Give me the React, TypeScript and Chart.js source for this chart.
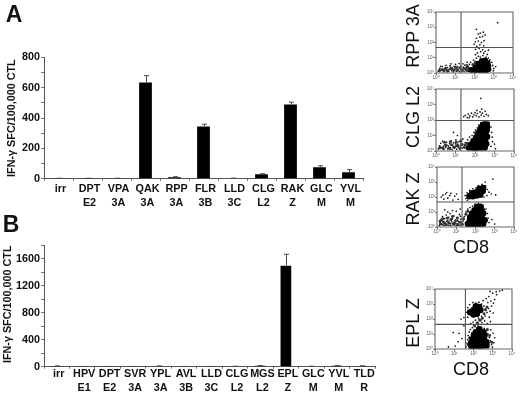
import React, { useEffect, useRef } from "react";
import { Chart, registerables } from "chart.js";

Chart.register(...registerables);

type Pt = [number, number];

const catsA = [["irr"], ["DPT", "E2"], ["VPA", "3A"], ["QAK", "3A"], ["RPP", "3A"], ["FLR", "3B"], ["LLD", "3C"], ["CLG", "L2"], ["RAK", "Z"], ["GLC", "M"], ["YVL", "M"]];
const valuesA = [2, 2, 2, 635, 10, 345, 3, 30, 490, 75, 42];
const errorsA = [1, 1, 1, 45, 3, 15, 1, 3, 15, 10, 18];

const catsB = [["irr"], ["HPV", "E1"], ["DPT", "E2"], ["SVR", "3A"], ["YPL", "3A"], ["AVL", "3B"], ["LLD", "3C"], ["CLG", "L2"], ["MGS", "L2"], ["EPL", "Z"], ["GLC", "M"], ["YVL", "M"], ["TLD", "R"]];
const valuesB = [10, 3, 3, 3, 10, 3, 3, 5, 15, 1500, 6, 15, 12];
const errorsB = [2, 1, 1, 1, 2, 1, 1, 2, 3, 170, 2, 3, 2];

const decadeLabels = ["10⁰", "10¹", "10²", "10³", "10⁴"];

const rppCore: Pt[] = [[1.85, .2], [2.05, .18], [2.25, .18], [2.45, .18], [2.62, .2], [2.72, .24], [2.05, .38], [2.22, .4], [2.4, .42], [2.58, .42], [2.72, .46], [2.2, .6], [2.38, .62], [2.55, .64], [2.68, .66], [2.38, .78], [2.55, .82]];
const rppMid: Pt[] = [[.3, .22], [.5, .3], [.62, .16], [.78, .3], [.92, .2], [1.02, .36], [1.12, .22], [1.24, .34], [1.36, .18], [1.48, .3], [1.58, .2], [1.68, .34], [.42, .14], [.18, .14], [1.7, .14], [1.6, .5], [2.05, .72], [1.92, .55]];
const rppDots: Pt[] = [[.12, .12], [.2, .3], [.28, .18], [.33, .42], [.4, .1], [.45, .27], [.52, .5], [.55, .16], [.6, .36], [.66, .1], [.7, .25], [.72, .48], [.78, .6], [.82, .15], [.85, .34], [.9, .08], [.94, .44], [.98, .22], [1.02, .56], [1.05, .12], [1.08, .32], [1.12, .42], [1.16, .2], [1.2, .62], [1.23, .1], [1.27, .3], [1.3, .46], [1.34, .16], [1.38, .24], [1.42, .38], [1.46, .1], [1.5, .52], [1.54, .2], [1.58, .33], [1.62, .12], [1.66, .44], [1.7, .26], [1.74, .56], [1.77, .12], [.16, .2], [.36, .26], [.5, .34], [.62, .18], [.76, .38], [.88, .24], [1.0, .36], [1.14, .14], [1.32, .22], [.24, .44], [.58, .08], [1.4, .6], [1.62, .7], [1.8, .7], [1.95, .85], [2.0, .65], [2.1, .98], [2.2, 1.1], [2.3, 1.05], [2.44, 1.14], [2.6, 1.05], [2.72, .98], [2.8, .86], [2.9, .7], [2.95, .5], [3.0, .3], [2.98, .15], [3.1, .42], [2.05, 1.2], [2.15, 1.32], [2.48, 1.3], [2.32, 1.4], [2.05, 1.55], [2.24, 1.6], [2.42, 1.52], [2.55, 1.42], [2.12, 1.75], [2.28, 1.85], [2.48, 1.78], [1.98, 1.9], [2.05, 2.05], [2.2, 2.1], [2.36, 2.0], [2.5, 2.12], [2.1, 2.28], [2.28, 2.35], [2.42, 2.4], [2.55, 2.5], [2.3, 2.62], [2.46, 2.68], [2.2, 2.55], [3.2, 3.3], [2.1, 2.86], [2.72, 1.5], [2.66, 1.22]];

const clgCore: Pt[] = [[1.7, .22], [1.9, .2], [2.1, .2], [2.3, .22], [2.5, .22], [1.8, .42], [2.0, .42], [2.2, .42], [2.4, .44], [2.58, .46], [1.92, .65], [2.12, .65], [2.32, .66], [2.52, .68], [2.06, .88], [2.26, .88], [2.46, .9], [2.62, .92], [2.14, 1.1], [2.34, 1.1], [2.54, 1.12], [2.24, 1.3], [2.44, 1.32], [2.6, 1.34], [2.32, 1.5], [2.5, 1.52], [2.62, 1.55], [2.42, 1.7], [2.6, 1.72]];
const clgMid: Pt[] = [[.2, .26], [.36, .18], [.5, .36], [.66, .2], [.8, .4], [.94, .24], [1.08, .34], [1.22, .2], [1.34, .42], [.44, .56], [.74, .6], [1.04, .58], [1.46, .22], [1.28, .66], [1.5, .4], [1.6, .5]];
const clgDots: Pt[] = [[.12, .14], [.18, .34], [.24, .5], [.3, .2], [.34, .62], [.4, .1], [.46, .42], [.5, .24], [.54, .56], [.6, .14], [.64, .34], [.7, .48], [.74, .22], [.78, .66], [.82, .1], [.86, .38], [.9, .54], [.94, .18], [.98, .3], [1.02, .72], [1.06, .12], [1.1, .44], [1.14, .26], [1.18, .6], [1.22, .14], [1.26, .36], [1.3, .5], [1.34, .2], [1.38, .78], [.2, .16], [.38, .3], [.56, .38], [.72, .12], [.88, .26], [1.0, .46], [1.16, .36], [1.44, .3], [1.5, .55], [1.56, .14], [1.62, .72], [1.72, .9], [1.85, 1.0], [1.95, 1.2], [2.02, 1.35], [2.12, 1.5], [2.2, 1.68], [2.3, 1.82], [2.5, 1.9], [2.72, 1.85], [2.82, 1.55], [2.85, 1.2], [2.88, .9], [2.9, .6], [2.82, .3], [3.0, .45], [3.05, .15], [1.42, 2.22], [1.5, 2.3], [1.6, 2.16], [1.66, 2.38], [1.74, 2.26], [1.82, 2.44], [1.88, 2.2], [1.94, 2.34], [2.0, 2.48], [2.06, 2.28], [2.12, 2.42], [2.2, 2.2], [2.26, 2.52], [2.32, 2.32], [2.38, 2.44], [2.46, 2.24], [2.52, 2.56], [2.58, 2.36], [2.68, 2.28], [2.1, 2.62], [2.34, 2.7], [1.7, 2.14], [2.3, 3.4], [.9, 1.2], [1.1, 1.0]];

const rakCore: Pt[] = [[1.6, .2], [1.8, .18], [2.0, .18], [2.2, .2], [2.4, .22], [1.7, .42], [1.9, .42], [2.1, .42], [2.3, .44], [2.48, .46], [1.72, .66], [1.92, .66], [2.12, .68], [2.32, .68], [1.82, .9], [2.02, .9], [2.22, .92], [2.4, .92], [1.95, 1.12], [2.15, 1.14], [2.32, 1.14], [2.08, 1.34], [2.26, 1.36], [1.68, 2.05], [1.86, 2.05], [2.05, 2.1], [2.25, 2.15], [1.82, 2.25], [2.0, 2.3], [2.2, 2.35], [2.38, 2.4], [2.2, 2.55], [2.4, 2.6]];
const rakMid: Pt[] = [[.2, .2], [.34, .34], [.46, .16], [.6, .3], [.72, .5], [.84, .22], [.96, .4], [1.08, .16], [1.2, .32], [.3, .56], [.54, .6], [.8, .7], [1.06, .6], [.16, .4], [1.32, .18], [1.38, .55], [1.5, .85], [1.6, 1.05]];
const rakDots: Pt[] = [[.12, .1], [.16, .3], [.2, .5], [.24, .18], [.28, .7], [.32, .36], [.36, .1], [.4, .56], [.44, .26], [.48, .8], [.52, .14], [.56, .44], [.6, .64], [.64, .24], [.68, .9], [.72, .1], [.76, .36], [.8, .54], [.84, .16], [.88, .74], [.92, .28], [.96, .46], [1.0, .1], [1.04, .62], [1.08, .2], [1.12, .38], [1.16, .84], [1.2, .12], [1.24, .52], [1.28, .28], [.14, .2], [.26, .42], [.38, .24], [.5, .38], [.62, .12], [.74, .48], [.86, .3], [.98, .22], [1.1, .12], [1.22, .72], [.3, .16], [.46, .16], [.7, .22], [.9, .14], [1.06, .44], [.56, 1.0], [.8, 1.1], [1.0, 1.05], [1.2, 1.2], [.4, 1.15], [1.36, .4], [1.42, .7], [1.5, 1.0], [1.6, 1.2], [1.72, 1.3], [1.85, 1.4], [1.98, 1.52], [2.15, 1.58], [2.4, 1.42], [2.55, 1.2], [2.62, .9], [2.66, .6], [2.7, .3], [2.85, .5], [3.0, .2], [1.5, 1.9], [1.58, 1.78], [1.46, 2.1], [1.56, 2.3], [1.7, 2.45], [1.86, 2.55], [2.02, 2.6], [2.14, 2.76], [2.34, 2.84], [2.52, 2.74], [2.62, 2.5], [2.7, 2.32], [2.6, 2.1], [2.44, 2.0], [2.82, 2.2], [3.05, 2.14], [2.5, 3.0], [2.9, 3.2], [.22, 2.0], [.36, 1.86], [.44, 2.2], [.56, 1.92], [.66, 2.1], [.72, 2.24], [.82, 1.8], [.92, 2.06], [1.02, 2.2], [.5, 2.3], [.3, 2.12], [1.1, 1.85]];

const eplCore: Pt[] = [[1.82, 2.45], [2.0, 2.3], [2.0, 2.6], [2.18, 2.35], [2.18, 2.65], [2.36, 2.6], [2.3, 2.8], [2.12, 2.85], [1.88, .2], [2.08, .2], [2.28, .2], [2.48, .22], [2.68, .24], [1.88, .42], [2.08, .42], [2.28, .42], [2.48, .44], [2.68, .46], [1.95, .66], [2.15, .66], [2.35, .66], [2.55, .68], [2.02, .9], [2.22, .9], [2.42, .92], [2.58, .94], [2.12, 1.12], [2.32, 1.14], [2.5, 1.14], [2.3, 1.32]];
const eplMid: Pt[] = [[2.05, 1.55], [2.2, 1.75], [2.34, 1.92], [2.46, 2.05], [2.55, 2.35], [2.62, 2.62], [2.72, 1.3], [2.84, .9], [2.95, .45], [1.72, .3], [1.8, .75], [2.7, 2.8]];
const eplDots: Pt[] = [[1.62, .15], [1.66, .4], [1.7, .62], [1.72, .9], [1.78, 1.14], [1.84, 1.3], [1.92, 1.1], [1.94, 1.42], [2.02, 1.25], [2.08, 1.5], [2.16, 1.4], [2.24, 1.55], [2.42, 1.45], [2.56, 1.38], [2.68, 1.22], [2.76, 1.0], [2.82, .78], [2.88, .55], [2.94, .3], [2.98, .12], [3.06, .42], [3.1, .75], [3.02, 1.05], [2.9, 1.28], [1.85, 1.7], [1.98, 1.8], [2.1, 1.92], [2.22, 1.72], [2.3, 1.96], [2.44, 1.76], [2.58, 1.88], [2.72, 1.7], [2.88, 1.82], [1.7, 2.12], [1.62, 2.45], [1.7, 2.76], [1.8, 2.96], [1.96, 3.1], [2.12, 3.06], [2.28, 3.12], [2.42, 3.0], [2.54, 2.86], [2.62, 2.66], [2.7, 2.44], [2.78, 2.7], [2.86, 2.52], [2.94, 2.86], [3.02, 2.4], [2.6, 2.2], [2.42, 2.18], [2.26, 2.06], [2.82, 2.12], [2.5, 3.22], [2.66, 3.36], [2.8, 3.5], [2.9, 3.2], [3.04, 3.06], [3.1, 3.3], [2.74, 3.1], [3.0, 3.72], [3.18, 3.82], [3.36, 3.86], [3.5, 3.92], [2.86, 3.84], [3.2, 3.62], [1.4, .7], [1.2, .48], [1.25, 1.05], [1.05, .2], [.95, 1.1], [1.5, 1.55], [.7, .14], [1.35, 2.0], [1.5, 2.1]];

const gateA: Pt[][] = [[[1.3, 0], [1.3, 4]], [[0, 1.67], [4, 1.67]]];
const gateB: Pt[][] = [[[1.28, 0], [1.28, 4]], [[0, 1.97], [4, 1.97]]];
const gateC: Pt[][] = [[[1.3, 0], [1.3, 4]], [[0, 1.67], [4, 1.67]]];
const gateD: Pt[][] = [[[1.58, 0], [1.58, 4]], [[0, 1.64], [4, 1.64]]];
const frame: Pt[] = [[0, 0], [4, 0], [4, 4], [0, 4], [0, 0]];

const yTitle = "IFN-γ SFC/100,000 CTL";
const FONT = '"Liberation Sans", Arial, sans-serif';

function errorPlugin(errors: number[]) {
  return {
    id: "errorBars",
    afterDatasetsDraw(chart: any) {
      const { ctx, scales } = chart;
      const meta = chart.getDatasetMeta(0);
      const vals = chart.data.datasets[0].data as number[];
      ctx.save();
      ctx.strokeStyle = "#4a4a4a";
      ctx.lineWidth = 1;
      meta.data.forEach((bar: any, i: number) => {
        const y0 = scales.y.getPixelForValue(vals[i]);
        const y1 = scales.y.getPixelForValue(vals[i] + errors[i]);
        const x = Math.round(bar.x) + 0.5;
        ctx.beginPath();
        ctx.moveTo(x, y0);
        ctx.lineTo(x, y1);
        ctx.moveTo(x - 2.5, y1);
        ctx.lineTo(x + 2.5, y1);
        ctx.stroke();
      });
      ctx.restore();
    },
  };
}

function BarPanel(p: any) {
  const ref = useRef<HTMLCanvasElement>(null);
  useEffect(() => {
    const chart = new Chart(ref.current!, {
      type: "bar",
      data: { labels: p.cats, datasets: [{ data: p.values, backgroundColor: "#000", barPercentage: p.barPct, categoryPercentage: 1 }] },
      plugins: [errorPlugin(p.errors)],
      options: {
        animation: false,
        responsive: false,
        events: [],
        layout: { padding: { top: p.padTop, right: p.padRight, left: 0, bottom: 0 } },
        plugins: { legend: { display: false }, tooltip: { enabled: false }, title: { display: false } },
        scales: {
          x: {
            grid: { drawOnChartArea: false, tickLength: 2, color: "#666", offset: true },
            border: { color: "#555", width: 1 },
            afterFit: (s: any) => { s.height = p.xHeight; },
            ticks: { autoSkip: false, maxRotation: 0, minRotation: 0, labelOffset: 2, color: "#111", padding: p.tickPad, font: { family: FONT, weight: "bold", size: 10.8, lineHeight: p.lineH } },
          },
          y: {
            min: 0, max: p.max,
            grid: { drawOnChartArea: false, tickLength: 3, color: "#777" },
            border: { color: "#555", width: 1 },
            afterFit: (s: any) => { s.width = 44; },
            title: { display: true, text: yTitle, align: p.titleAlign, color: "#111", padding: { top: p.titleLeft, bottom: 0 }, font: { family: FONT, weight: "bold", size: 10.8 } },
            ticks: {
              stepSize: p.step, color: "#111", padding: 1, autoSkip: false,
              font: { family: FONT, weight: "bold", size: 10.8 },
              callback: (v: any) => (v % p.labelEvery === 0 ? String(v) : ""),
            },
          },
        },
      },
    } as any);
    return () => chart.destroy();
  }, []);
  return <canvas ref={ref} width={380} height={p.h} style={{ position: "absolute", left: 0, top: p.top, width: 380, height: p.h }} />;
}

function DotPanel(p: any) {
  const ref = useRef<HTMLCanvasElement>(null);
  useEffect(() => {
    const line = (data: Pt[], color: string) => ({ type: "line", data: data.map(([x, y]) => ({ x, y })), borderColor: color, borderWidth: 1.1, pointRadius: 0, showLine: true, clip: false, fill: false, tension: 0 });
    const dots = (data: Pt[], r: number, color: string) => ({ data: data.map(([x, y]) => ({ x, y })), backgroundColor: color, borderWidth: 0, pointRadius: r, showLine: false });
    const axis = (extra: any) => ({
      type: "linear", min: 0, max: 4,
      grid: { drawOnChartArea: false, tickLength: 2, color: "#777" },
      border: { display: false },
      ticks: { stepSize: 1, color: "#555", padding: 0, autoSkip: false, maxRotation: 0, font: { family: FONT, size: 4.5 }, callback: (v: any) => decadeLabels[v] ?? "" },
      ...extra,
    });
    const chart = new Chart(ref.current!, {
      type: "scatter",
      data: {
        datasets: [
          line(p.gate[0], "#555"), line(p.gate[1], "#555"), line(frame, "#666"),
          dots(p.core, p.coreR, "#000"), dots(p.mid, 1.5, "#333"), dots(p.dotsData, 0.85, "#111"),
        ],
      },
      options: {
        animation: false, responsive: false, events: [],
        layout: { padding: { top: p.boxTop - p.top, right: p.left + p.w - p.boxRight, left: 0, bottom: 0 } },
        plugins: { legend: { display: false }, tooltip: { enabled: false } },
        scales: {
          x: axis({ afterFit: (s: any) => { s.height = p.top + p.h - p.boxBottom; } }),
          y: axis({ afterFit: (s: any) => { s.width = p.boxLeft - p.left; } }),
        },
      },
    } as any);
    return () => chart.destroy();
  }, []);
  return <canvas ref={ref} width={p.w} height={p.h} style={{ position: "absolute", left: p.left, top: p.top, width: p.w, height: p.h }} />;
}

function Label(p: { x: number; y: number; size: number; weight?: number; rotate?: boolean; text: string }) {
  return (
    <span style={{
      position: "absolute", left: p.x, top: p.y, fontFamily: FONT, fontSize: p.size, fontWeight: p.weight ?? 400, color: "#111", lineHeight: 1, whiteSpace: "nowrap",
      transform: `translate(-50%,-50%)${p.rotate ? " rotate(-90deg)" : ""}`,
    }}>{p.text}</span>
  );
}

export default function App() {
  return (
    <div style={{ position: "absolute", left: 0, top: 0, width: 520, height: 394, background: "#fff", overflow: "hidden" }}>
      <BarPanel top={0} h={210} cats={catsA} values={valuesA} errors={errorsA} max={800} step={100} labelEvery={200} barPct={0.44} padTop={57.5} padRight={17} xHeight={31.3} lineH={1.3} tickPad={1} titleLeft={6} titleAlign="center" />
      <BarPanel top={210} h={184} cats={catsB} values={valuesB} errors={errorsB} max={1800} step={200} labelEvery={400} barPct={0.42} padTop={35.5} padRight={5} xHeight={27.3} lineH={1.26} tickPad={-1} titleLeft={2} titleAlign="end" />

      <DotPanel left={420} top={0} w={100} h={85} boxLeft={436} boxRight={513} boxTop={12} boxBottom={73} gate={gateA} core={rppCore} mid={rppMid} dotsData={rppDots} coreR={3} />
      <DotPanel left={420} top={85} w={100} h={78} boxLeft={436} boxRight={514} boxTop={88} boxBottom={151} gate={gateB} core={clgCore} mid={clgMid} dotsData={clgDots} coreR={3.2} />
      <DotPanel left={420} top={163} w={100} h={76} boxLeft={437} boxRight={514} boxTop={165} boxBottom={227} gate={gateC} core={rakCore} mid={rakMid} dotsData={rakDots} coreR={3.2} />
      <DotPanel left={420} top={285} w={100} h={76} boxLeft={435} boxRight={512} boxTop={288} boxBottom={349} gate={gateD} core={eplCore} mid={eplMid} dotsData={eplDots} coreR={3.2} />

      <Label x={14} y={14} size={23} weight={700} text="A" />
      <Label x={11} y={224} size={23} weight={700} text="B" />
      <Label x={413} y={36} size={18} rotate text="RPP 3A" />
      <Label x={413} y={117} size={18} rotate text="CLG L2" />
      <Label x={413} y={199} size={18} rotate text="RAK Z" />
      <Label x={413} y={323} size={18} rotate text="EPL Z" />
      <Label x={471} y={247} size={18} text="CD8" />
      <Label x={471} y={369} size={18} text="CD8" />
    </div>
  );
}
